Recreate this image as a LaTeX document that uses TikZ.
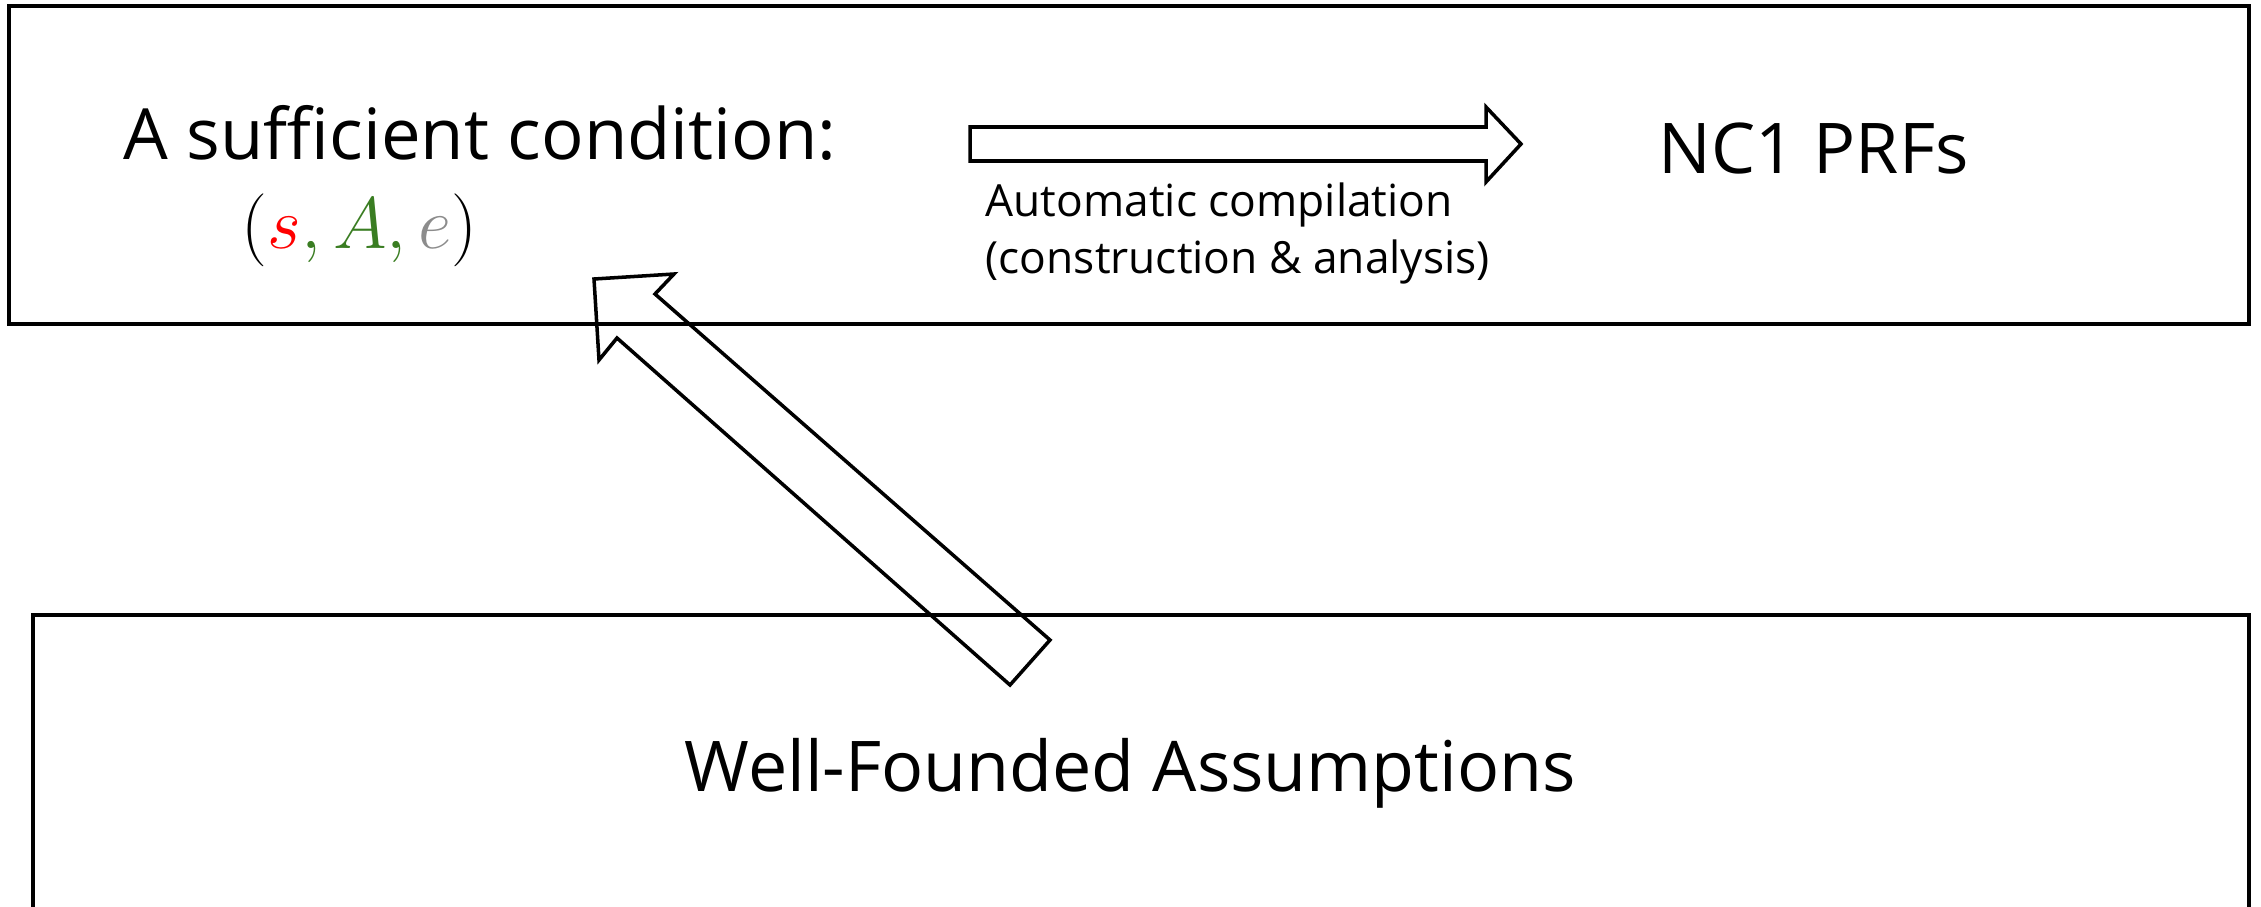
\documentclass[tikz,border=0pt]{standalone}
\usepackage{fontspec}
\setmainfont{Open Sans}
\definecolor{tgreen}{HTML}{3A7D22}
\definecolor{tgray}{HTML}{8C8C8C}
\begin{document}
\begin{tikzpicture}[x=0.01cm,y=-0.01cm,
  box/.style={draw=black,line width=1.14pt,fill=none,inner sep=0pt},
  blockarrow/.style={draw=black,line width=1pt,line join=miter},
  txt/.style={inner sep=0pt,anchor=base west}]
\useasboundingbox (0,0) rectangle (2261,906);
\clip (0,0) rectangle (2261,906);
% boxes
\node[box,minimum width=22.38cm,minimum height=3.18cm] (top) at (1129,165) {};
\node[box,minimum width=22.14cm,minimum height=4cm] (bottom) at (1141,815) {};
% texts
\node[txt,font=\fontsize{20.1}{24}\selectfont] (cond) at (123,159) {A sufficient condition:};
\node[txt,font=\fontsize{20}{24}\selectfont] (tuple) at (241,248)
  {$(\textcolor{red}{s}\textcolor{tgreen}{,}\,\textcolor{tgreen}{A}\textcolor{tgreen}{,}\,\textcolor{tgray}{e})$};
\node[txt,font=\fontsize{19.9}{24}\selectfont] (nc) at (1658,173) {NC1 PRFs};
\node[txt,font=\fontsize{12.6}{15}\selectfont] (auto1) at (985,216) {Automatic compilation};
\node[txt,font=\fontsize{12.6}{15}\selectfont] (auto2) at (985,273) {(construction \& analysis)};
\node[txt,font=\fontsize{19.9}{24}\selectfont] (wf) at (684,791) {Well-Founded Assumptions};
% right block arrow
\coordinate (ra1) at (970,127);
\coordinate (ra2) at (1486,127);
\coordinate (ra3) at (1486,107);
\coordinate (ra4) at (1521,144);
\coordinate (ra5) at (1486,182);
\coordinate (ra6) at (1486,161);
\coordinate (ra7) at (970,161);
\draw[blockarrow] (ra1) -- (ra2) -- (ra3) -- (ra4) -- (ra5) -- (ra6) -- (ra7) -- cycle;
% diagonal block arrow
\coordinate (da1) at (1010,685);
\coordinate (da2) at (1050,640);
\coordinate (da3) at (655,294);
\coordinate (da4) at (674,274);
\coordinate (da5) at (594,279);
\coordinate (da6) at (599,360);
\coordinate (da7) at (617,338);
\draw[blockarrow] (da1) -- (da2) -- (da3) -- (da4) -- (da5) -- (da6) -- (da7) -- cycle;
\end{tikzpicture}
\end{document}
